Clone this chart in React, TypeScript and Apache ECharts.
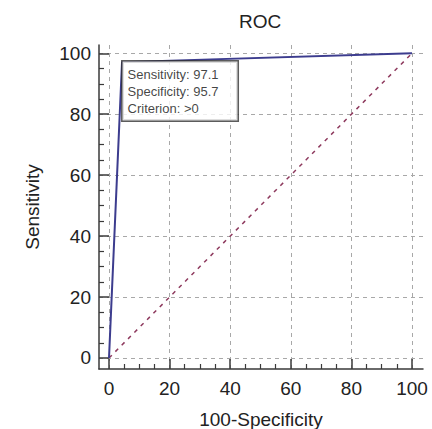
import React, { useEffect, useRef } from "react";
import * as echarts from "echarts";

const majorTicks = [0, 20, 40, 60, 80, 100];
const minorTicks = [5, 10, 15, 25, 30, 35, 45, 50, 55, 65, 70, 75, 85, 90, 95];
// ROC curve points: [100-Specificity, Sensitivity]
const rocPoints = [
  [0, 0],
  [4.3, 97.1],
  [100, 100],
];
const diagonal = [
  [0, 0],
  [100, 100],
];
const optimalPoint = [4.3, 97.1];
const sensitivity = 97.1;
const specificity = 95.7;
const criterion = ">0";

const FONT = "'Liberation Sans', Arial, sans-serif";
const AXIS_COLOR = "#3a3a3a";

export default function App() {
  const ref = useRef<HTMLDivElement>(null);
  useEffect(() => {
    if (!ref.current) return;
    const chart = echarts.init(ref.current, null, { renderer: "svg" });
    const xRange = { min: -3.3, max: 103.63 };
    const yRange = { min: -3.61, max: 102.72 };
    const majorAxisCommon = {
      type: "value" as const,
      axisLine: { show: true, onZero: false, lineStyle: { color: AXIS_COLOR, width: 1.5 } },
      axisTick: { show: true, inside: true, length: 10, customValues: majorTicks, lineStyle: { color: AXIS_COLOR, width: 1.5 } },
      axisLabel: { show: true, customValues: majorTicks, color: "#222", fontSize: 19, fontFamily: FONT },
      splitLine: { show: true, lineStyle: { color: "#a8a8a8", width: 1, type: [4, 4] } },
      nameLocation: "middle" as const,
      nameTextStyle: { color: "#222", fontSize: 19, fontFamily: FONT },
    };
    const minorAxisCommon = {
      type: "value" as const,
      axisLine: { show: false, onZero: false },
      axisTick: { show: true, inside: true, length: 5, customValues: minorTicks, lineStyle: { color: AXIS_COLOR, width: 1.2 } },
      axisLabel: { show: false },
      splitLine: { show: false },
    };
    chart.setOption({
      animation: false,
      backgroundColor: "#fff",
      title: {
        text: "ROC",
        left: 239,
        top: 12,
        padding: 0,
        textStyle: { fontSize: 19, fontWeight: "normal", color: "#222", fontFamily: FONT },
      },
      grid: { left: 99, right: 9, top: 45, bottom: 60, containLabel: false, outerBoundsMode: "none" },
      xAxis: [
        {
          ...majorAxisCommon,
          ...xRange,
          position: "bottom",
          name: "100-Specificity",
          nameGap: 41,
          axisLabel: { ...majorAxisCommon.axisLabel, margin: 10 },
        },
        { ...minorAxisCommon, ...xRange, position: "bottom" },
      ],
      yAxis: [
        {
          ...majorAxisCommon,
          ...yRange,
          position: "left",
          name: "Sensitivity",
          nameGap: 57,
          axisLabel: { ...majorAxisCommon.axisLabel, margin: 8 },
        },
        { ...minorAxisCommon, ...yRange, position: "left" },
      ],
      series: [
        {
          type: "line",
          xAxisIndex: 0,
          yAxisIndex: 0,
          data: diagonal,
          symbol: "none",
          lineStyle: { color: "#8e3a5e", width: 1.5, type: [4, 5] },
          z: 2,
        },
        {
          type: "line",
          xAxisIndex: 0,
          yAxisIndex: 0,
          data: rocPoints,
          symbol: "none",
          lineStyle: { color: "#3c3c8e", width: 2 },
          z: 3,
        },
        {
          type: "scatter",
          xAxisIndex: 0,
          yAxisIndex: 0,
          data: [optimalPoint],
          symbolSize: 1,
          itemStyle: { color: "#3c3c8e" },
          z: 4,
          label: {
            show: true,
            position: [1, 0],
            align: "left",
            verticalAlign: "top",
            formatter: `Sensitivity: ${sensitivity}\nSpecificity: ${specificity}\nCriterion: ${criterion}`,
            fontSize: 13,
            lineHeight: 17,
            fontFamily: FONT,
            color: "#111",
            backgroundColor: "#fff",
            borderColor: "#333",
            borderWidth: 1.5,
            padding: [4, 6, 4, 5],
            width: 104,
          },
        },
      ],
    });
    return () => chart.dispose();
  }, []);
  return (
    <div
      ref={ref}
      style={{ position: "absolute", left: 0, top: 0, width: 432, height: 429 }}
    />
  );
}
